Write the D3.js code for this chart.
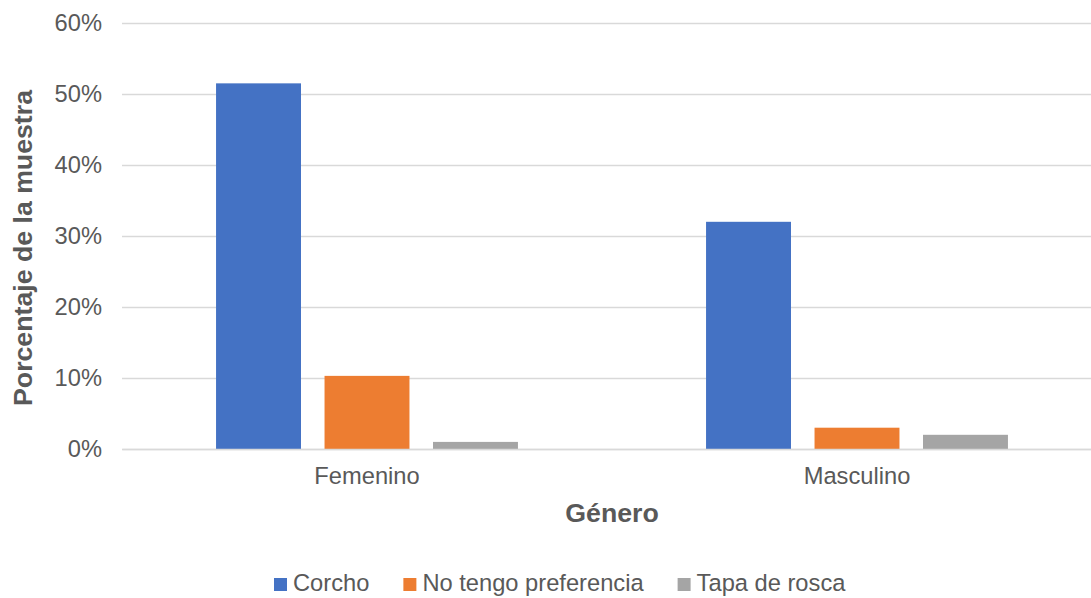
<!DOCTYPE html>
<html>
<head>
<meta charset="utf-8">
<script src="https://cdn.jsdelivr.net/npm/d3@7"></script>
<style>
  body { margin: 0; background: #fff; }
  text { font-family: Arial, "Liberation Sans", sans-serif; fill: #595959; }
</style>
</head>
<body>
<div class="canvas"></div>
<script>
// data
const categories = ['Femenino', 'Masculino'];
const seriesNames = ['Corcho', 'No tengo preferencia', 'Tapa de rosca'];
const corcho = [51.5, 32.0];
const noPreferencia = [10.3, 3.0];
const tapaRosca = [1.0, 2.0];
const yTicks = [0, 10, 20, 30, 40, 50, 60];
const colors = ['#4472C4', '#ED7D31', '#A5A5A5'];

const seriesValues = [corcho, noPreferencia, tapaRosca];

const width = 1091, height = 598;
const fontSize = 23.7;
const svg = d3.select('.canvas')
  .append('svg')
    .attr('width', width)
    .attr('height', height);

// plot area (right side runs a bit past the window like the original)
const plot = {left: 122, right: 1102, top: 23, bottom: 449};

const y = d3.scaleLinear()
  .domain([0, 60])
  .range([plot.bottom, plot.top]);

const x0 = d3.scaleBand()
  .domain(categories)
  .range([plot.left, plot.right]);

const x1 = d3.scaleBand()
  .domain(seriesNames)
  .range([0, x0.bandwidth()])
  .paddingInner(0.217)
  .paddingOuter(0.867);

// gridlines
const yAxis = d3.axisLeft(y)
  .tickValues(yTicks)
  .tickSize(-(plot.right - plot.left))
  .tickPadding(20)
  .tickFormat(d => d + '%');

const gy = svg.append('g')
  .attr('transform', `translate(${plot.left},0)`)
  .call(yAxis);
gy.select('.domain').remove();
gy.selectAll('.tick line')
  .attr('stroke', '#d9d9d9')
  .attr('stroke-width', 1.3);
gy.selectAll('.tick text')
  .attr('font-size', fontSize)
  .attr('fill', '#595959');

// bars
const rows = categories.map((c, i) => ({
  cat: c,
  vals: seriesNames.map((s, j) => ({ name: s, value: seriesValues[j][i], color: colors[j] }))
}));

const groups = svg.selectAll('g.group')
  .data(rows)
  .enter()
  .append('g')
    .attr('class', 'group')
    .attr('transform', d => `translate(${x0(d.cat)},0)`);

groups.selectAll('rect')
  .data(d => d.vals)
  .enter()
  .append('rect')
    .attr('x', d => x1(d.name))
    .attr('width', x1.bandwidth())
    .attr('y', d => y(d.value))
    .attr('height', d => y(0) - y(d.value))
    .attr('fill', d => d.color);

// x axis
const xAxis = d3.axisBottom(x0).tickSize(0).tickPadding(18);
const gx = svg.append('g')
  .attr('transform', `translate(0,${plot.bottom})`)
  .call(xAxis);
gx.select('.domain')
  .attr('stroke', '#d9d9d9')
  .attr('stroke-width', 1.3);
gx.selectAll('.tick text')
  .attr('font-size', fontSize)
  .attr('fill', '#595959');

// axis titles
svg.append('text')
  .attr('x', 612)
  .attr('y', 522)
  .attr('text-anchor', 'middle')
  .attr('font-size', 26.7)
  .attr('font-weight', 'bold')
  .text('Género');

svg.append('text')
  .attr('transform', 'translate(32,248) rotate(-90)')
  .attr('text-anchor', 'middle')
  .attr('font-size', 26.7)
  .attr('font-weight', 'bold')
  .text('Porcentaje de la muestra');

// legend
const legend = svg.append('g');
let lx = 274;
seriesNames.forEach((s, i) => {
  legend.append('rect')
    .attr('x', lx)
    .attr('y', 578)
    .attr('width', 13)
    .attr('height', 13)
    .attr('fill', colors[i]);
  const t = legend.append('text')
    .attr('x', lx + 19)
    .attr('y', 591)
    .attr('font-size', fontSize)
    .text(s);
  lx = lx + 19 + t.node().getComputedTextLength() + 34;
});
</script>
</body>
</html>
